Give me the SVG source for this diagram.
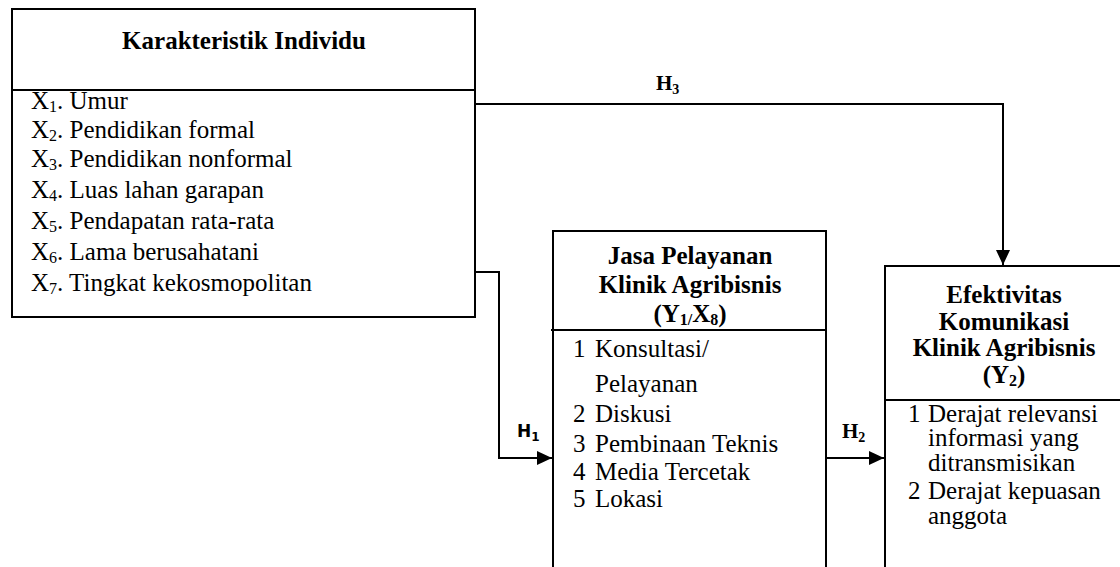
<svg xmlns="http://www.w3.org/2000/svg" width="1120" height="567" viewBox="0 0 1120 567">
<style>
  .box { fill: #fff; stroke: #000; stroke-width: 2; }
  .div { stroke: #000; stroke-width: 2; }
  .t { font-family: "Liberation Serif", "Times New Roman", serif; font-size: 25px; fill: #000; }
  .b { font-weight: bold; }
  .c { text-anchor: middle; }
  .sub { font-size: 16px; }
  .conn { fill: none; stroke: #000; stroke-width: 2; }
  .h { font-family: "Liberation Serif", "Times New Roman", serif; font-size: 21px; font-weight: bold; fill: #000; }
  .hs { font-family: "DejaVu Sans", "Liberation Sans", sans-serif; font-size: 17px; font-weight: bold; fill: #000; }
</style>
<defs>
  <marker id="arr" markerUnits="userSpaceOnUse" markerWidth="16" markerHeight="14" refX="15" refY="7" orient="auto">
    <path d="M0,0 L15,7 L0,14 Z" fill="#000"/>
  </marker>
</defs>
<rect width="1120" height="567" fill="#fff"/>

<g id="connectors">
  <path class="conn" d="M475,104 H1003 V265" marker-end="url(#arr)"/>
  <path class="conn" d="M475,272 H499 V458 H552" marker-end="url(#arr)"/>
  <path class="conn" d="M826,458 H884" marker-end="url(#arr)"/>
  <text class="h" x="656" y="90">H<tspan font-size="14" dy="4">3</tspan></text>
  <text class="hs" x="517" y="437">H<tspan font-size="12" dy="4">1</tspan></text>
  <text class="h" x="842" y="438">H<tspan font-size="14" dy="4">2</tspan></text>
</g>

<g id="karakteristik">
  <rect class="box" x="12" y="9" width="463" height="308"/>
  <line class="div" x1="12" y1="90" x2="475" y2="90"/>
  <text class="t b c" x="244" y="49">Karakteristik Individu</text>
  <text class="t" x="31" y="109">X<tspan class="sub" dy="3">1</tspan><tspan dy="-3">. Umur</tspan></text>
  <text class="t" x="31" y="138">X<tspan class="sub" dy="3">2</tspan><tspan dy="-3">. Pendidikan formal</tspan></text>
  <text class="t" x="31" y="167">X<tspan class="sub" dy="3">3</tspan><tspan dy="-3">. Pendidikan nonformal</tspan></text>
  <text class="t" x="31" y="198">X<tspan class="sub" dy="3">4</tspan><tspan dy="-3">. Luas lahan garapan</tspan></text>
  <text class="t" x="31" y="229">X<tspan class="sub" dy="3">5</tspan><tspan dy="-3">. Pendapatan rata-rata</tspan></text>
  <text class="t" x="31" y="260">X<tspan class="sub" dy="3">6</tspan><tspan dy="-3">. Lama berusahatani</tspan></text>
  <text class="t" x="31" y="291">X<tspan class="sub" dy="3">7</tspan><tspan dy="-3">. Tingkat kekosmopolitan</tspan></text>
</g>

<g id="jasa-pelayanan">
  <rect class="box" x="553" y="231" width="273" height="400"/>
  <line class="div" x1="551" y1="330" x2="826" y2="330"/>
  <text class="t b c" x="690" y="264">Jasa Pelayanan</text>
  <text class="t b c" x="690" y="293">Klinik Agribisnis</text>
  <text class="t b c" x="690" y="322">(Y<tspan class="sub" dy="3">1/</tspan><tspan dy="-3">X</tspan><tspan class="sub" dy="3">8</tspan><tspan dy="-3">)</tspan></text>
  <text class="t" x="573" y="357">1</text><text class="t" x="595" y="357">Konsultasi/</text>
  <text class="t" x="595" y="392">Pelayanan</text>
  <text class="t" x="573" y="422">2</text><text class="t" x="595" y="422">Diskusi</text>
  <text class="t" x="573" y="452">3</text><text class="t" x="595" y="452">Pembinaan Teknis</text>
  <text class="t" x="573" y="480">4</text><text class="t" x="595" y="480">Media Tercetak</text>
  <text class="t" x="573" y="507">5</text><text class="t" x="595" y="507">Lokasi</text>
</g>

<g id="efektivitas">
  <rect class="box" x="885" y="266" width="240" height="400"/>
  <line class="div" x1="885" y1="400" x2="1120" y2="400"/>
  <text class="t b c" x="1004" y="303">Efektivitas</text>
  <text class="t b c" x="1004" y="330">Komunikasi</text>
  <text class="t b c" x="1004" y="356">Klinik Agribisnis</text>
  <text class="t b c" x="1004" y="383">(Y<tspan class="sub" dy="3">2</tspan><tspan dy="-3">)</tspan></text>
  <text class="t" x="908" y="422">1</text><text class="t" x="928" y="422">Derajat relevansi</text>
  <text class="t" x="928" y="446">informasi yang</text>
  <text class="t" x="928" y="471">ditransmisikan</text>
  <text class="t" x="908" y="499">2</text><text class="t" x="928" y="499">Derajat kepuasan</text>
  <text class="t" x="928" y="524">anggota</text>
</g>
</svg>
